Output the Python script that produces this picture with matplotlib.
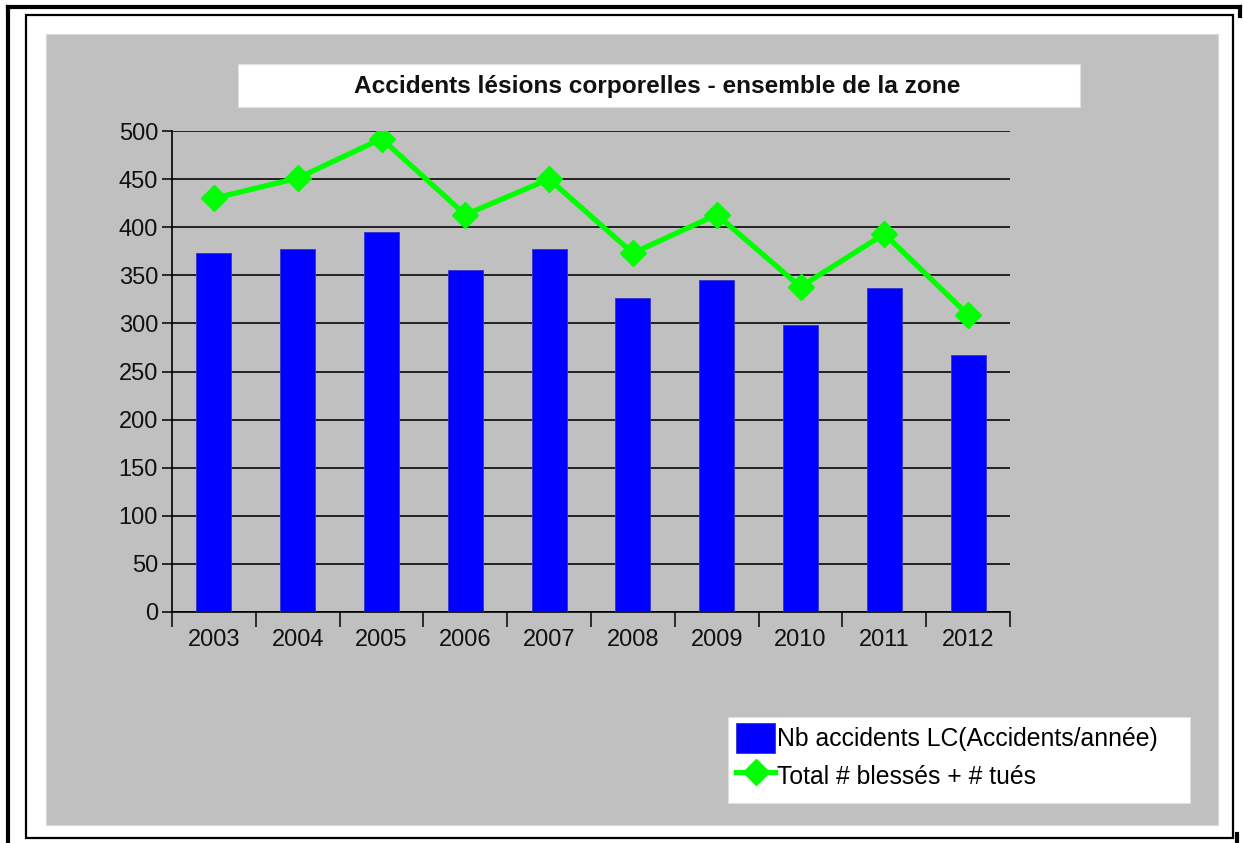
import numpy as np
import matplotlib
matplotlib.use("Agg")
import matplotlib.pyplot as plt
from matplotlib.patches import Rectangle
from matplotlib.lines import Line2D

plt.rcParams["font.family"] = ["Liberation Sans", "DejaVu Sans"]

years = ["2003", "2004", "2005", "2006", "2007", "2008", "2009", "2010", "2011", "2012"]
accidents = [373, 377, 395, 356, 377, 326, 345, 298, 337, 267]
victimes = [430, 451, 492, 413, 450, 373, 413, 338, 393, 309]

W, H = 1243, 843
fig = plt.figure(figsize=(W / 100, H / 100), dpi=100)
fig.patch.set_facecolor("white")

def fx(px):
    return px / W

def fy(py):
    return 1 - py / H

def box(x0, y0, x1, y1, **kw):
    fig.add_artist(Rectangle((fx(x0), fy(y1)), fx(x1) - fx(x0), fy(y0) - fy(y1),
                             transform=fig.transFigure, **kw))

# grey background panel
box(46, 34, 1218, 825, facecolor="#c0c0c0", edgecolor="#d8d8d8", lw=0.8, zorder=0)
# inner frame
box(26, 15, 1233, 838, facecolor="none", edgecolor="black", lw=1.6, zorder=1)
# outer thick frame pieces
fig.add_artist(Line2D([fx(8), fx(8)], [fy(7), fy(843)], transform=fig.transFigure, color="black", lw=3))
fig.add_artist(Line2D([fx(8), fx(1240)], [fy(7), fy(7)], transform=fig.transFigure, color="black", lw=3))
fig.add_artist(Line2D([fx(1240), fx(1240)], [fy(7), fy(16)], transform=fig.transFigure, color="black", lw=3))
fig.add_artist(Line2D([fx(1237), fx(1237)], [fy(834), fy(843)], transform=fig.transFigure, color="black", lw=3))

# title box
box(238, 64, 1080, 107, facecolor="white", edgecolor="#e0e0e0", lw=0.8, zorder=2)
fig.text(fx(657), fy(86), "Accidents lésions corporelles - ensemble de la zone",
         ha="center", va="center", fontsize=17.6, fontweight="bold", color="#111111", zorder=3)

# legend box
box(728, 717, 1190, 803, facecolor="white", edgecolor="#e0e0e0", lw=0.8, zorder=2)

ax = fig.add_axes([fx(172), fy(612), fx(1010) - fx(172), fy(131) - fy(612)])
ax.set_facecolor("none")

x = np.arange(len(years))
bars = ax.bar(x, accidents, width=0.42, color="#0000ff", edgecolor="#3333cc", lw=0.6, zorder=3,
              label="Nb accidents LC(Accidents/année)")
line, = ax.plot(x, victimes, color="#00ff00", lw=3.8, marker="D", markersize=13, zorder=4,
                label="Total # blessés + # tués")

ax.set_xlim(-0.5, len(years) - 0.5)
ax.set_ylim(0, 500)
ax.set_yticks(np.arange(0, 501, 50))
ax.yaxis.grid(True, color="#222222", lw=1.4, zorder=1)
ax.set_axisbelow(True)

ax.set_xticks(x)
ax.set_xticklabels(years)
ax.set_xticks(np.arange(-0.5, len(years), 1), minor=True)
ax.tick_params(axis="x", which="major", length=0, pad=12, labelsize=17, labelcolor="#111111")
ax.tick_params(axis="x", which="minor", length=11, width=1.2, direction="out", color="#111111")
ax.tick_params(axis="y", length=7, width=1.2, pad=3, labelsize=17, labelcolor="#111111", color="#111111")

for s in ["top", "right"]:
    ax.spines[s].set_visible(False)
ax.spines["left"].set_linewidth(1.2)
ax.spines["bottom"].set_linewidth(1.2)

leg = fig.legend([bars, line], [bars.get_label(), line.get_label()],
                 loc="upper left", bbox_to_anchor=(fx(734), fy(721)), borderaxespad=0,
                 fontsize=17.8, frameon=False,
                 handlelength=1.55, handleheight=1.45, handletextpad=0.1, labelspacing=0.32,
                 borderpad=0.1)
leg.set_zorder(5)

fig.savefig("out.png", dpi=100)
